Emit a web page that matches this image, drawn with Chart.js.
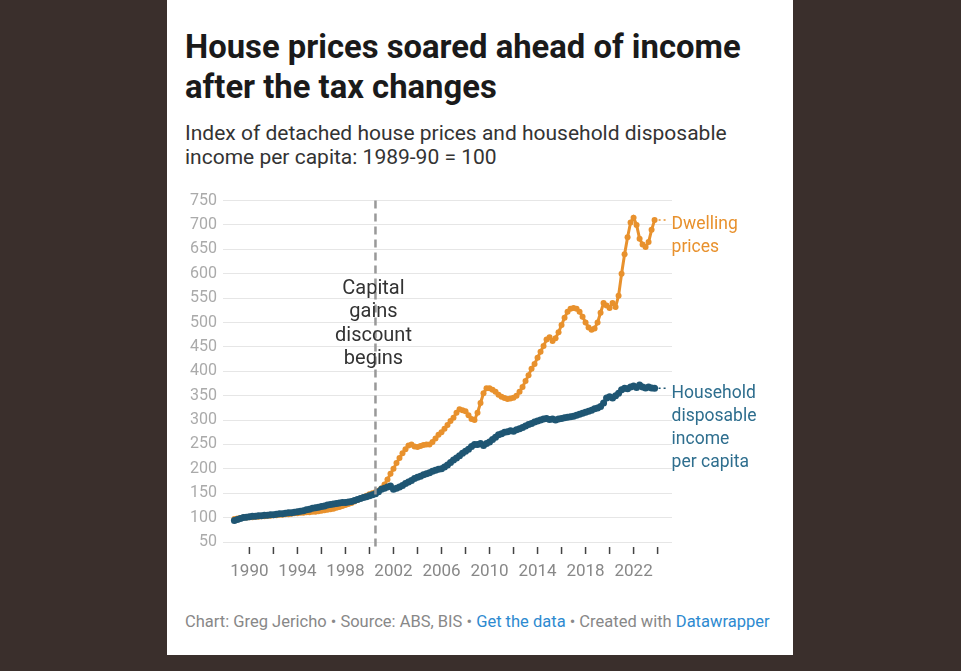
<!DOCTYPE html>
<html><head><meta charset="utf-8">
<script src="https://cdn.jsdelivr.net/npm/chart.js@4"></script>
<style>
body{margin:0;background:#3a2f2c;width:961px;height:671px;overflow:hidden;font-family:Roboto,sans-serif}
#card{position:absolute;left:167px;top:0;width:626px;height:655px;background:#fff}
h1{position:absolute;left:18px;top:27px;margin:0;font-size:32.8px;line-height:40px;font-weight:700;color:#1a1a1a;white-space:nowrap}
.sub{position:absolute;left:18px;top:121px;font-size:21px;line-height:24px;color:#333;white-space:nowrap}
.foot{position:absolute;left:18px;top:612px;font-size:16.5px;color:#888;white-space:nowrap}
.foot a{color:#2d8ad0;text-decoration:none}
#wrap{position:absolute;left:0;top:185px;width:626px;height:400px}
</style></head><body>
<div id="card">
<h1>House prices soared ahead of income<br>after the tax changes</h1>
<div class="sub">Index of detached house prices and household disposable<br>income per capita: 1989-90 = 100</div>
<div id="wrap"><canvas id="c" width="626" height="400"></canvas></div>
<div class="foot">Chart: Greg Jericho • Source: ABS, BIS • <a>Get the data</a> • Created with <a>Datawrapper</a></div>
</div>
<script>
const startYear = 1988.75;
const dwelling = [97,
98,99,100,100, 101,101,102,102, 103,103,104,104, 105,105,106,106, 107,107,108,109,
109,110,110,111, 111,112,112,113, 114,115,116,117, 118,120,122,124, 126,128,130,133,
136,139,142,145, 148,150,152,155, 160,168,178,190, 200,212,222,232, 240,248,250,246,
245,247,249,250, 250,255,262,270, 275,282,290,298, 305,315,322,320, 318,310,302,300,
315,335,355,365, 365,362,358,352, 348,345,343,344, 346,350,358,368, 380,392,405,415,
428,440,452,465, 470,462,468,480, 495,510,522,528, 530,528,522,512, 500,490,485,488,
500,520,540,535, 530,540,532,555, 600,640,675,705, 715,700,672,660, 655,665,690,710];
const income = [94,
96,98,100,101, 102,103,103,104, 104,105,105,106, 106,107,108,108, 109,110,110,111,
112,113,114,116, 117,119,120,121, 123,124,126,127, 128,129,130,131, 131,132,133,135,
137,139,141,143, 145,147,149,153, 158,160,163,165, 158,160,163,166, 170,173,176,180,
183,185,188,190, 192,195,197,199, 200,204,208,213, 218,222,227,232, 236,240,246,250,
250,252,248,252, 255,260,265,270, 272,275,276,278, 277,280,282,285, 288,291,293,296,
298,300,302,303, 301,302,300,302, 303,305,306,307, 308,310,312,314, 316,318,320,323,
325,328,335,345, 348,345,350,355, 362,365,364,368, 370,367,372,368, 366,368,366,365];
const yTicks = [50,100,150,200,250,300,350,400,450,500,550,600,650,700,750];
const toPts = a => a.map((v,i)=>({x:startYear+i*0.25,y:v}));
const ORANGE='#e8912d', BLUE='#1f5673';
const deco = {id:'deco',
 afterDatasetsDraw(ch){
  const c=ch.ctx, xs=ch.scales.x, ys=ch.scales.y;
  c.save();
  const vx=xs.getPixelForValue(2000.5);
  const bot=ys.getPixelForValue(50);
  c.strokeStyle='#999';c.lineWidth=2.5;c.setLineDash([8,5]);
  c.beginPath();c.moveTo(vx,ys.getPixelForValue(750));c.lineTo(vx,bot+6);c.stroke();
  c.setLineDash([]);c.strokeStyle='#444';c.lineWidth=1.5;
  for(let y=1990;y<=2024;y+=2){const px=xs.getPixelForValue(y);c.beginPath();c.moveTo(px,bot+5);c.lineTo(px,bot+12);c.stroke();}
  c.font='20px Roboto';c.textAlign='center';c.textBaseline='middle';
  c.fillStyle='#333';
  ['Capital','gains','discount','begins'].forEach((t,i)=>{c.fillText(t,vx-2,ys.getPixelForValue(750)+88+i*23.5);});
  c.setLineDash([2,3]);c.lineWidth=1.5;
  const lx=xs.getPixelForValue(startYear+(dwelling.length-1)*0.25);
  const ld=ys.getPixelForValue(dwelling[dwelling.length-1]);
  const li=ys.getPixelForValue(income[income.length-1]);
  c.strokeStyle=ORANGE;c.beginPath();c.moveTo(lx+4,ld);c.lineTo(lx+14,ld);c.stroke();
  c.strokeStyle=BLUE;c.beginPath();c.moveTo(lx+4,li);c.lineTo(lx+14,li);c.stroke();
  c.textAlign='left';c.font='17.5px Roboto';
  c.fillStyle=ORANGE;['Dwelling','prices'].forEach((t,i)=>c.fillText(t,lx+17,ld+5+i*23));
  c.fillStyle='#2e6e8e';['Household','disposable','income','per capita'].forEach((t,i)=>c.fillText(t,lx+17,li+5+i*23));
  c.restore();
 }};
new Chart(document.getElementById('c'),{
 type:'scatter',
 data:{datasets:[
  {data:toPts(income),borderColor:BLUE,backgroundColor:BLUE,showLine:true,borderWidth:3.5,pointRadius:3.5,pointBorderWidth:0},
  {data:toPts(dwelling),borderColor:ORANGE,backgroundColor:ORANGE,showLine:true,borderWidth:3,pointRadius:3,pointBorderWidth:0}
 ]},
 options:{responsive:false,animation:false,
  layout:{padding:{left:6,right:121,top:15,bottom:0}},
  plugins:{legend:{display:false},tooltip:{enabled:false}},
  scales:{
   x:{type:'linear',min:1987.8,max:2025.2,
    afterBuildTicks(s){s.ticks=[];for(let y=1990;y<=2024;y+=2)s.ticks.push({value:y});},
    afterFit(s){s.height=43;},
    border:{display:false},
    grid:{display:false},
    ticks:{padding:12,color:'#888',font:{size:17,family:'Roboto'},maxRotation:0,autoSkip:false,
     callback:v=>((v-1990)%4===0 && v<=2022)?String(v):''}},
   y:{min:50,max:750,
    afterBuildTicks(s){s.ticks=yTicks.map(v=>({value:v}));},
    afterFit(s){s.width=50;},
    border:{display:false},
    grid:{color:'#e6e6e6',drawTicks:false},
    ticks:{padding:6,color:'#aaa',font:{size:16,family:'Roboto'}}}
  }},
 plugins:[deco]
});
</script>
</body></html>
